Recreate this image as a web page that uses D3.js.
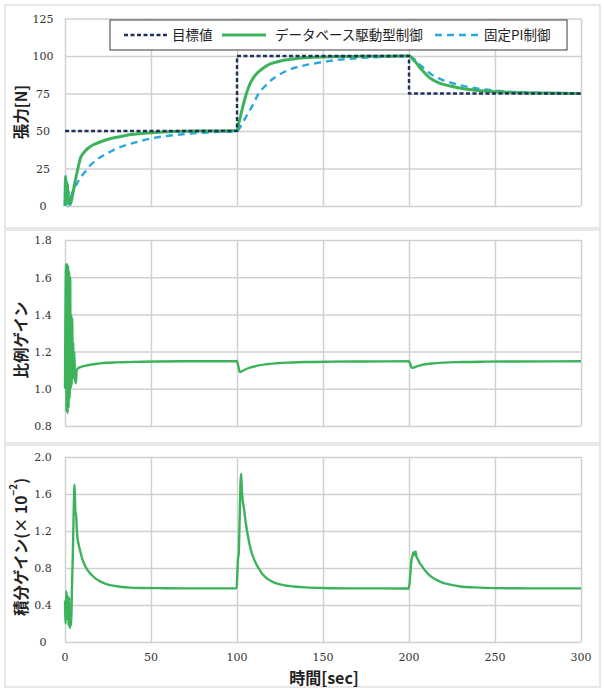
<!DOCTYPE html>
<html>
<head>
<meta charset="utf-8">
<script src="https://cdn.jsdelivr.net/npm/d3@7"></script>
<style>
  body { margin: 0; background: #fff; }
  svg { display: block; }
  .grid line { stroke: #d0d0d0; stroke-width: 1.5; }
  .grid path { display: none; }
  .tick-label { font-family: "DejaVu Serif", serif; font-size: 11px; fill: #333; }
  .axis-title { font-family: "Noto Sans CJK JP", sans-serif; font-weight: bold; fill: #222; }
  .legend-text { font-family: "Noto Sans CJK JP", sans-serif; font-size: 13.5px; fill: #222; }
</style>
</head>
<body>
<div class="panel"></div>
<script>
// ---- data ----
const timeDomain = [0, 300];
const timeTicks = [0, 50, 100, 150, 200, 250, 300];

const tensionTicks = [0, 25, 50, 75, 100, 125];
const kpTicks = [0.8, 1.0, 1.2, 1.4, 1.6, 1.8];
const kiTicks = [0, 0.4, 0.8, 1.2, 1.6, 2.0];

const legendNames = ["目標値", "データベース駆動型制御", "固定PI制御"];

// target tension
const targetTime = [0, 100, 100, 200, 200, 300];
const targetTension = [50, 50, 100, 100, 75, 75];

// database driven control
const dbTime = [0, 0.3, 0.8, 1.3, 1.8, 2.4, 3, 4.5, 6, 7.5, 9, 10.5, 12, 14, 16.5, 20, 25, 30, 36, 43, 50, 60, 70, 85,
  100, 101, 102.5, 104, 105.5, 107, 109, 111.5, 114.5, 118, 123, 128, 135, 145, 158, 172, 186,
  200, 201, 202.5, 204.5, 206.5, 208.5, 211, 214, 218, 224, 231, 240, 250, 262, 275, 290, 300];
const dbTension = [0, 19, 8, 15, 3, 6, 1, 8, 17, 25, 32, 35, 37, 39, 40.8, 42.5, 44.5, 45.8, 47.2, 48.2, 48.9, 49.5, 49.8, 50,
  50.3, 55, 62, 69, 75, 80, 84.5, 88.3, 91.3, 94, 96, 97.3, 98.4, 99.2, 99.6, 99.8, 99.9,
  100, 99.4, 97.5, 95, 92, 89.5, 86.5, 84, 81.8, 80, 78.3, 77, 76.2, 75.6, 75.3, 75.1, 75];

// fixed PI control
const piTime = [0, 0.3, 0.6, 0.9, 1.2, 1.5, 1.8, 2.1, 2.5, 3, 4, 5, 6.5, 8, 10, 12.5, 15, 18, 22, 26, 31, 36, 42, 50, 60, 70, 80, 90,
  100, 101, 103, 105, 107, 109.5, 112.5, 116, 120, 125, 130, 137, 145, 153, 162, 172, 185,
  200, 201.5, 203.5, 206, 209, 212, 216, 220, 225, 230, 236, 243, 250, 260, 272, 285, 300];
const piTension = [0, 20, 2, 17, 1, 14, 0, 10, 1, 4, 8, 11, 14, 17, 20.5, 24, 27.5, 30.5, 33.5, 36, 38.8, 40.8, 42.8, 45, 46.8, 48, 48.8, 49.4,
  49.7, 51, 55, 59, 63, 68, 75, 79.5, 84, 87.8, 90.7, 93.2, 95, 96.6, 97.8, 98.7, 99.4,
  100, 99.2, 97.5, 94.5, 91.5, 88.5, 85.8, 83.8, 82, 80.4, 79, 77.8, 77, 76.1, 75.6, 75.3, 75];

// proportional gain
const kpTime = [0, 0.6, 0.9, 1.2, 1.5, 1.8, 2.1, 2.4, 2.7, 3.0, 3.3, 3.6, 3.9, 4.2, 4.5, 4.8, 5.1, 5.4, 5.8, 6.3, 6.8, 7.5, 8.5, 10, 12, 15, 19, 24, 30, 40, 55, 75,
  100, 100.8, 101.7, 103, 105, 108, 112, 117, 123, 130, 140, 155, 175,
  200, 200.8, 201.7, 203, 205, 208, 213, 220, 230, 245, 265, 300];
const kpGain = [1.0, 1.67, 0.88, 1.67, 0.87, 1.66, 0.9, 1.63, 0.95, 1.6, 1.0, 1.40, 1.02, 1.38, 1.05, 1.25, 1.07, 1.2, 1.06, 1.03, 1.10, 1.11, 1.115, 1.12, 1.125, 1.13, 1.135, 1.14, 1.142, 1.145, 1.147, 1.148,
  1.148, 1.12, 1.09, 1.095, 1.105, 1.115, 1.125, 1.132, 1.137, 1.141, 1.144, 1.146, 1.147,
  1.148, 1.13, 1.112, 1.115, 1.122, 1.13, 1.136, 1.141, 1.144, 1.146, 1.147, 1.148];

// integral gain (x 10^-2)
const kiTime = [0, 0.4, 0.8, 1.2, 1.6, 2.0, 2.4, 2.8, 3.2, 3.6, 4.0, 4.5, 5.0, 5.5, 5.8, 6.1, 6.4, 6.8, 7.3, 8, 9, 10, 11.5, 13, 15, 17.5, 20, 23, 27, 32, 38, 45, 55, 70, 85,
  99.8, 100.2, 100.6, 101, 101.5, 102, 102.4, 102.8, 103.3, 104, 105, 106.5, 108, 110, 112.5, 115, 118, 122, 127, 133, 140, 150, 165, 185,
  199.8, 200.3, 200.8, 201.4, 202, 202.6, 203.2, 203.8, 204.4, 205, 206, 207.5, 209.5, 212, 215, 219, 224, 230, 238, 250, 270, 300];
const kiGain = [0.45, 0.2, 0.55, 0.25, 0.5, 0.18, 0.48, 0.15, 0.35, 0.18, 0.55, 0.9, 1.35, 1.70, 1.55, 1.38, 1.4, 1.25, 1.12, 1.05, 0.97, 0.9, 0.83, 0.78, 0.735, 0.69, 0.66, 0.635, 0.612, 0.598, 0.588, 0.584, 0.582, 0.58, 0.58,
  0.58, 0.75, 0.9, 0.95, 1.3, 1.7, 1.82, 1.65, 1.53, 1.45, 1.3, 1.13, 1.0, 0.89, 0.8, 0.73, 0.68, 0.64, 0.615, 0.6, 0.59, 0.584, 0.58, 0.58,
  0.578, 0.63, 0.75, 0.88, 0.93, 0.97, 0.94, 0.98, 0.92, 0.9, 0.86, 0.82, 0.77, 0.72, 0.68, 0.645, 0.62, 0.60, 0.59, 0.582, 0.58, 0.58];

// ---- drawing ----
const width = 604;
const height = 689;

const navy = "#22305e";
const green = "#3cb35a";
const lightBlue = "#2aa8e0";

const svg = d3.select(".panel")
    .append("svg")
    .attr("width", width)
    .attr("height", height)
    .attr("viewBox", `0 0 ${width} ${height}`);

const x = d3.scaleLinear().domain(timeDomain).range([65, 581]);

const panels = [
  { box: [5, 5, 595, 223], yTop: 18.5, yBottom: 206, ticks: tensionTicks, fmt: d => d, title: "張力[N]", titleY: 112 },
  { box: [5, 230, 595, 213], yTop: 240, yBottom: 426, ticks: kpTicks, fmt: d3.format(".1f"), title: "比例ゲイン", titleY: 340 },
  { box: [5, 445, 595, 242], yTop: 457, yBottom: 642, ticks: kiTicks, fmt: d => d === 0 ? "0" : d3.format(".1f")(d), title: "積分ゲイン(× 10", sup: "−2", tail: ")", titleY: 547 }
];

const yScales = panels.map(p => makePanel(p));

function makePanel(p){
  const g = svg.append("g");

  g.append("rect")
   .attr("x", p.box[0])
   .attr("y", p.box[1])
   .attr("width", p.box[2])
   .attr("height", p.box[3])
   .attr("fill", "#fff")
   .attr("stroke", "#d9d9d9")
   .attr("stroke-width", 1.2);

  const y = d3.scaleLinear()
              .domain(d3.extent(p.ticks))
              .range([p.yBottom, p.yTop]);

  // horizontal grid + y labels
  const yAxis = g.append("g")
                 .attr("class", "grid")
                 .attr("transform", `translate(${x.range()[0]},0)`)
                 .call(d3.axisLeft(y)
                         .tickValues(p.ticks)
                         .tickFormat(p.fmt)
                         .tickSize(-(x.range()[1] - x.range()[0])));
  yAxis.selectAll("text")
       .attr("class", "tick-label")
       .attr("x", -22)
       .attr("dy", "0.35em")
       .attr("text-anchor", "middle");

  // vertical grid
  g.append("g")
   .attr("class", "grid")
   .attr("transform", `translate(0,${p.yBottom})`)
   .call(d3.axisBottom(x)
           .tickValues(timeTicks)
           .tickFormat("")
           .tickSize(-(p.yBottom - p.yTop)));

  const title = g.append("text")
                 .attr("class", "axis-title")
                 .attr("font-size", 15.5)
                 .attr("text-anchor", "middle")
                 .attr("dominant-baseline", "central")
                 .attr("transform", `translate(20,${p.titleY}) rotate(-90)`)
                 .text(p.title);
  if(p.sup){
    title.append("tspan")
         .attr("font-size", 10)
         .attr("baseline-shift", "super")
         .text(p.sup);
    title.append("tspan").text(p.tail);
  }
  return y;
}

function drawLine(time, values, y, colour, lineWidth, dash, curve){
  const pts = time.map((t, i) => [t, values[i]]);
  const line = d3.line()
                 .x(d => x(d[0]))
                 .y(d => y(d[1]))
                 .curve(curve || d3.curveMonotoneX);
  svg.append("path")
     .datum(pts)
     .attr("d", line)
     .attr("fill", "none")
     .attr("stroke", colour)
     .attr("stroke-width", lineWidth)
     .attr("stroke-dasharray", dash)
     .attr("stroke-linejoin", "round");
}

// tension panel
drawLine(piTime, piTension, yScales[0], lightBlue, 2.4, "7,5");
drawLine(dbTime, dbTension, yScales[0], green, 3);
drawLine(targetTime, targetTension, yScales[0], navy, 2.4, "4,2.5", d3.curveLinear);

// gain panels
drawLine(kpTime, kpGain, yScales[1], green, 2.4);
drawLine(kiTime, kiGain, yScales[2], green, 2.4);

// x tick labels under the bottom panel
svg.append("g")
   .selectAll("text")
   .data(timeTicks)
   .enter()
   .append("text")
   .attr("class", "tick-label")
   .attr("x", d => x(d))
   .attr("y", 661)
   .attr("text-anchor", "middle")
   .text(d => d);

svg.append("text")
   .attr("class", "axis-title")
   .attr("font-size", 16)
   .attr("x", 324)
   .attr("y", 684)
   .attr("text-anchor", "middle")
   .text("時間[sec]");

// legend
const legend = svg.append("g");
legend.append("rect")
      .attr("x", 110)
      .attr("y", 20)
      .attr("width", 457)
      .attr("height", 30)
      .attr("fill", "#fff")
      .attr("stroke", "#3a3a3a")
      .attr("stroke-width", 1);

const legendItems = [
  { name: legendNames[0], colour: navy, dash: "4,2.5", w: 2.4, x0: 124, x1: 168, tx: 172 },
  { name: legendNames[1], colour: green, dash: null, w: 3, x0: 222, x1: 266, tx: 275 },
  { name: legendNames[2], colour: lightBlue, dash: "7,5", w: 2.4, x0: 435, x1: 478, tx: 484 }
];

const items = legend.selectAll(".legend-item")
                    .data(legendItems)
                    .enter()
                    .append("g")
                    .attr("class", "legend-item");
items.append("line")
     .attr("x1", d => d.x0)
     .attr("x2", d => d.x1)
     .attr("y1", 35)
     .attr("y2", 35)
     .attr("stroke", d => d.colour)
     .attr("stroke-width", d => d.w)
     .attr("stroke-dasharray", d => d.dash);
items.append("text")
     .attr("class", "legend-text")
     .attr("x", d => d.tx)
     .attr("y", 35)
     .attr("dy", "0.36em")
     .text(d => d.name);
</script>
</body>
</html>
